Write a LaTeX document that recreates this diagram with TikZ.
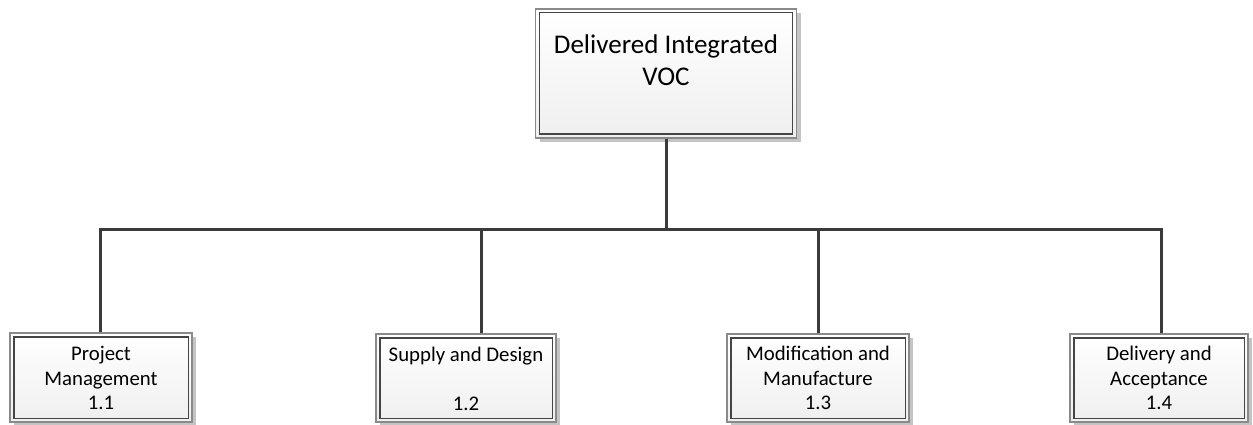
\documentclass[tikz,border=0pt]{standalone}
\usepackage{fontspec}
\setmainfont{Carlito}
\usetikzlibrary{shadows}
\definecolor{outerc}{HTML}{8A8A8A}
\definecolor{innerc}{HTML}{454545}
\definecolor{shadc}{HTML}{C4C4C4}
\definecolor{fillbot}{HTML}{EFEFEF}
\definecolor{connc}{HTML}{3A3A3A}
\tikzset{
  wbox/.style={draw=outerc, line width=1.3pt, rectangle, inner sep=0pt,
    top color=white, bottom color=fillbot,
    drop shadow={shadow xshift=4pt, shadow yshift=-4pt, fill=shadc, opacity=1}},
  innerrect/.style={draw=innerc, line width=1.3pt},
  toptext/.style={font=\fontsize{27}{32}\selectfont, align=center, inner sep=0pt},
  subtext/.style={font=\fontsize{20.8}{24.5}\selectfont, align=center, inner sep=0pt},
  conn/.style={draw=connc, line width=3.0pt}
}
\begin{document}
\begin{tikzpicture}[x=1pt,y=-1pt]
\useasboundingbox (0,0) rectangle (1253,425);
\coordinate (bar) at (666,229);
\coordinate (j1) at (100,229);
\coordinate (j2) at (481,229);
\coordinate (j3) at (818,229);
\coordinate (j4) at (1161,229);
% top box
\node[wbox, minimum width=261pt, minimum height=129pt] (top) at (666,73.5) {};
% sub boxes
\node[wbox, minimum width=182pt, minimum height=89pt] (b1) at (101,377.5) {};
\node[wbox, minimum width=180pt, minimum height=88pt] (b2) at (466,378) {};
\node[wbox, minimum width=182pt, minimum height=88pt] (b3) at (818,378) {};
\node[wbox, minimum width=178pt, minimum height=88pt] (b4) at (1159,378) {};
\foreach \n in {top,b1,b2,b3,b4}
  \draw[innerrect] ([shift={(4.5pt,-4.5pt)}]\n.north west) rectangle ([shift={(-4.5pt,4.5pt)}]\n.south east);
% labels
\node[toptext] (toplabel) at (666,60) {Delivered Integrated\\VOC};
\node[subtext] (t1) at (101,378) {Project\\Management\\1.1};
\node[subtext] (t2) at (466,379) {Supply and Design\\[24.5pt]1.2};
\node[subtext] (t3) at (818,378) {Modification and\\Manufacture\\1.3};
\node[subtext] (t4) at (1159,378) {Delivery and\\Acceptance\\1.4};
% connectors
\draw[conn] (top.south -| bar) -- (bar);
\draw[conn] (j1 |- b1.north) -- (j1) -- (j4) -- (j4 |- b4.north);
\draw[conn] (j2) -- (j2 |- b2.north);
\draw[conn] (j3) -- (j3 |- b3.north);
\end{tikzpicture}
\end{document}
